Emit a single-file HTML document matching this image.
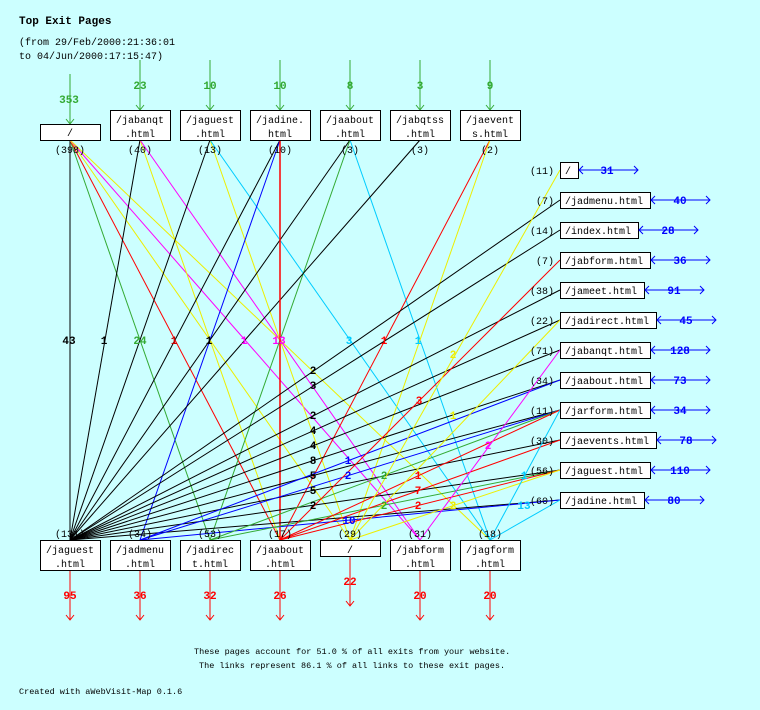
<!DOCTYPE html>
<html><head><meta charset="utf-8"><style>
html,body{margin:0;padding:0;background:#ccffff;}
svg{display:block;}
text{font-family:"Liberation Mono","DejaVu Sans Mono",monospace;font-size:10px;}
.b{font-weight:bold;font-size:11px;}
</style></head><body>
<svg width="760" height="710" xmlns="http://www.w3.org/2000/svg">
<rect width="760" height="710" fill="#ccffff"/>
<text x="19" y="24" class="b">Top Exit Pages</text>
<text x="19" y="45">(from 29/Feb/2000:21:36:01</text>
<text x="19" y="59">to 04/Jun/2000:17:15:47)</text>

<!-- lines top -> bottom -->
<g stroke-width="1" fill="none">
<line x1="70" y1="140" x2="70" y2="540" stroke="#000"/>
<line x1="70" y1="140" x2="210" y2="540" stroke="#3a3"/>
<line x1="70" y1="140" x2="280" y2="540" stroke="#f00"/>
<line x1="70" y1="140" x2="350" y2="540" stroke="#ee0"/>
<line x1="70" y1="140" x2="420" y2="540" stroke="#f0f"/>
<line x1="70" y1="140" x2="490" y2="540" stroke="#ee0"/>
<line x1="140" y1="140" x2="70" y2="540" stroke="#000"/>
<line x1="140" y1="140" x2="280" y2="540" stroke="#ee0"/>
<line x1="140" y1="140" x2="420" y2="540" stroke="#f0f"/>
<line x1="210" y1="140" x2="70" y2="540" stroke="#000"/>
<line x1="210" y1="140" x2="350" y2="540" stroke="#ee0"/>
<line x1="210" y1="140" x2="490" y2="540" stroke="#0cf"/>
<line x1="280" y1="140" x2="70" y2="540" stroke="#000"/>
<line x1="280" y1="140" x2="140" y2="540" stroke="#00f"/>
<line x1="350" y1="140" x2="70" y2="540" stroke="#000"/>
<line x1="350" y1="140" x2="210" y2="540" stroke="#3a3"/>
<line x1="350" y1="140" x2="490" y2="540" stroke="#0cf"/>
<line x1="420" y1="140" x2="70" y2="540" stroke="#000"/>
<line x1="490" y1="140" x2="280" y2="540" stroke="#f00"/>
<line x1="490" y1="140" x2="350" y2="540" stroke="#ee0"/>
<line x1="280" y1="140" x2="280" y2="540" stroke="#f00" stroke-width="1.5"/>
<!-- bottom -> right -->
<line x1="70" y1="540" x2="560" y2="200" stroke="#000"/>
<line x1="70" y1="540" x2="560" y2="230" stroke="#000"/>
<line x1="70" y1="540" x2="560" y2="290" stroke="#000"/>
<line x1="70" y1="540" x2="560" y2="320" stroke="#000"/>
<line x1="70" y1="540" x2="560" y2="350" stroke="#000"/>
<line x1="70" y1="540" x2="560" y2="380" stroke="#000"/>
<line x1="70" y1="540" x2="560" y2="410" stroke="#000"/>
<line x1="70" y1="540" x2="560" y2="440" stroke="#000"/>
<line x1="70" y1="540" x2="560" y2="470" stroke="#000"/>
<line x1="70" y1="540" x2="560" y2="500" stroke="#000"/>
<line x1="140" y1="540" x2="560" y2="380" stroke="#00f"/>
<line x1="140" y1="540" x2="560" y2="410" stroke="#00f"/>
<line x1="140" y1="540" x2="560" y2="500" stroke="#00f"/>
<line x1="210" y1="540" x2="560" y2="410" stroke="#3a3"/>
<line x1="210" y1="540" x2="560" y2="470" stroke="#3a3"/>
<line x1="280" y1="540" x2="560" y2="260" stroke="#f00"/>
<line x1="280" y1="540" x2="560" y2="410" stroke="#f00"/>
<line x1="280" y1="540" x2="560" y2="440" stroke="#f00"/>
<line x1="280" y1="540" x2="560" y2="470" stroke="#f00"/>
<line x1="350" y1="540" x2="560" y2="170" stroke="#ee0"/>
<line x1="350" y1="540" x2="560" y2="320" stroke="#ee0"/>
<line x1="350" y1="540" x2="560" y2="470" stroke="#ee0"/>
<line x1="420" y1="540" x2="560" y2="350" stroke="#f0f"/>
<line x1="490" y1="540" x2="560" y2="410" stroke="#0cf"/>
<line x1="490" y1="540" x2="560" y2="500" stroke="#0cf"/>
</g>

<!-- green entry arrows -->
<g stroke="#3a3" fill="none">
<path d="M70 74V124M66 119L70 124L74 119"/>
<path d="M140 60V110M136 105L140 110L144 105"/>
<path d="M210 60V110M206 105L210 110L214 105"/>
<path d="M280 60V110M276 105L280 110L284 105"/>
<path d="M350 60V110M346 105L350 110L354 105"/>
<path d="M420 60V110M416 105L420 110L424 105"/>
<path d="M490 60V110M486 105L490 110L494 105"/>
</g>
<g fill="#3a3" class="b" text-anchor="middle">
<text x="69" y="103" class="b">353</text><text x="140" y="89" class="b">23</text><text x="210" y="89" class="b">10</text>
<text x="280" y="89" class="b">10</text><text x="350" y="89" class="b">8</text><text x="420" y="89" class="b">3</text><text x="490" y="89" class="b">9</text>
</g>

<!-- top boxes -->
<g fill="#fff" stroke="#000">
<rect x="40.5" y="124.5" width="60" height="16"/>
<rect x="110.5" y="110.5" width="60" height="30"/><rect x="180.5" y="110.5" width="60" height="30"/>
<rect x="250.5" y="110.5" width="60" height="30"/><rect x="320.5" y="110.5" width="60" height="30"/>
<rect x="390.5" y="110.5" width="60" height="30"/><rect x="460.5" y="110.5" width="60" height="30"/>
</g>
<g text-anchor="middle">
<text x="70" y="136">/</text>
<text x="140" y="123">/jabanqt</text><text x="140" y="137">.html</text>
<text x="210" y="123">/jaguest</text><text x="210" y="137">.html</text>
<text x="280" y="123">/jadine.</text><text x="280" y="137">html</text>
<text x="350" y="123">/jaabout</text><text x="350" y="137">.html</text>
<text x="420" y="123">/jabqtss</text><text x="420" y="137">.html</text>
<text x="490" y="123">/jaevent</text><text x="490" y="137">s.html</text>
<text x="70" y="153">(398)</text><text x="140" y="153">(40)</text><text x="210" y="153">(13)</text>
<text x="280" y="153">(10)</text><text x="350" y="153">(3)</text><text x="420" y="153">(3)</text><text x="490" y="153">(2)</text>
<text x="70" y="537">(131)</text><text x="140" y="537">(34)</text><text x="210" y="537">(53)</text>
<text x="280" y="537">(17)</text><text x="350" y="537">(29)</text><text x="420" y="537">(31)</text><text x="490" y="537">(18)</text>
</g>

<!-- bottom boxes -->
<g fill="#fff" stroke="#000">
<rect x="40.5" y="540.5" width="60" height="30"/><rect x="110.5" y="540.5" width="60" height="30"/>
<rect x="180.5" y="540.5" width="60" height="30"/><rect x="250.5" y="540.5" width="60" height="30"/>
<rect x="320.5" y="540.5" width="60" height="16"/><rect x="390.5" y="540.5" width="60" height="30"/>
<rect x="460.5" y="540.5" width="60" height="30"/>
</g>
<g text-anchor="middle">
<text x="70" y="553">/jaguest</text><text x="70" y="567">.html</text>
<text x="140" y="553">/jadmenu</text><text x="140" y="567">.html</text>
<text x="210" y="553">/jadirec</text><text x="210" y="567">t.html</text>
<text x="280" y="553">/jaabout</text><text x="280" y="567">.html</text>
<text x="350" y="553">/</text>
<text x="420" y="553">/jabform</text><text x="420" y="567">.html</text>
<text x="490" y="553">/jagform</text><text x="490" y="567">.html</text>
</g>
<g stroke="#f00" fill="none">
<path d="M70 571V620M66 615L70 620L74 615"/><path d="M140 571V620M136 615L140 620L144 615"/>
<path d="M210 571V620M206 615L210 620L214 615"/><path d="M280 571V620M276 615L280 620L284 615"/>
<path d="M350 557V606M346 601L350 606L354 601"/><path d="M420 571V620M416 615L420 620L424 615"/>
<path d="M490 571V620M486 615L490 620L494 615"/>
</g>
<g fill="#f00" text-anchor="middle">
<text x="70" y="599" class="b">95</text><text x="140" y="599" class="b">36</text><text x="210" y="599" class="b">32</text>
<text x="280" y="599" class="b">26</text><text x="350" y="585" class="b">22</text><text x="420" y="599" class="b">20</text><text x="490" y="599" class="b">20</text>
</g>

<!-- right boxes -->
<g fill="#fff" stroke="#000">
<rect x="560.5" y="162.5" width="18" height="16"/>
<rect x="560.5" y="192.5" width="90" height="16"/>
<rect x="560.5" y="222.5" width="78" height="16"/>
<rect x="560.5" y="252.5" width="90" height="16"/>
<rect x="560.5" y="282.5" width="84" height="16"/>
<rect x="560.5" y="312.5" width="96" height="16"/>
<rect x="560.5" y="342.5" width="90" height="16"/>
<rect x="560.5" y="372.5" width="90" height="16"/>
<rect x="560.5" y="402.5" width="90" height="16"/>
<rect x="560.5" y="432.5" width="96" height="16"/>
<rect x="560.5" y="462.5" width="90" height="16"/>
<rect x="560.5" y="492.5" width="84" height="16"/>
</g>
<g>
<text x="565" y="174">/</text><text x="565" y="204">/jadmenu.html</text><text x="565" y="234">/index.html</text>
<text x="565" y="264">/jabform.html</text><text x="565" y="294">/jameet.html</text><text x="565" y="324">/jadirect.html</text>
<text x="565" y="354">/jabanqt.html</text><text x="565" y="384">/jaabout.html</text><text x="565" y="414">/jarform.html</text>
<text x="565" y="444">/jaevents.html</text><text x="565" y="474">/jaguest.html</text><text x="565" y="504">/jadine.html</text>
</g>
<g text-anchor="end">
<text x="554" y="174">(11)</text><text x="554" y="204">(7)</text><text x="554" y="234">(14)</text>
<text x="554" y="264">(7)</text><text x="554" y="294">(38)</text><text x="554" y="324">(22)</text>
<text x="554" y="354">(71)</text><text x="554" y="384">(34)</text><text x="554" y="414">(11)</text>
<text x="554" y="444">(30)</text><text x="554" y="474">(56)</text><text x="554" y="504">(60)</text>
</g>
<g stroke="#00f" fill="none">
<path d="M579 170H638M583 166L579 170L583 174M634 166L638 170L634 174"/>
<path d="M651 200H710M655 196L651 200L655 204M706 196L710 200L706 204"/>
<path d="M639 230H698M643 226L639 230L643 234M694 226L698 230L694 234"/>
<path d="M651 260H710M655 256L651 260L655 264M706 256L710 260L706 264"/>
<path d="M645 290H704M649 286L645 290L649 294M700 286L704 290L700 294"/>
<path d="M657 320H716M661 316L657 320L661 324M712 316L716 320L712 324"/>
<path d="M651 350H710M655 346L651 350L655 354M706 346L710 350L706 354"/>
<path d="M651 380H710M655 376L651 380L655 384M706 376L710 380L706 384"/>
<path d="M651 410H710M655 406L651 410L655 414M706 406L710 410L706 414"/>
<path d="M657 440H716M661 436L657 440L661 444M712 436L716 440L712 444"/>
<path d="M651 470H710M655 466L651 470L655 474M706 466L710 470L706 474"/>
<path d="M645 500H704M649 496L645 500L649 504M700 496L704 500L700 504"/>
</g>
<g fill="#00f" text-anchor="middle">
<text x="607" y="174" class="b">31</text><text x="680" y="204" class="b">40</text><text x="668" y="234" class="b">28</text>
<text x="680" y="264" class="b">36</text><text x="674" y="294" class="b">91</text><text x="686" y="324" class="b">45</text>
<text x="680" y="354" class="b">128</text><text x="680" y="384" class="b">73</text><text x="680" y="414" class="b">34</text>
<text x="686" y="444" class="b">78</text><text x="680" y="474" class="b">110</text><text x="674" y="504" class="b">80</text>
</g>

<!-- link labels -->
<g text-anchor="middle">
<text x="69" y="344" class="b">43</text><text x="104" y="344" class="b">1</text>
<text x="140" y="344" class="b" fill="#3a3">24</text><text x="174" y="344" class="b" fill="#c00">1</text>
<text x="209" y="344" class="b">1</text><text x="244" y="344" class="b" fill="#f0f">1</text>
<text x="279" y="344" class="b" fill="#f0f">13</text><text x="349" y="344" class="b" fill="#0cf">3</text>
<text x="384" y="344" class="b" fill="#f00">1</text><text x="418" y="344" class="b" fill="#0cf">1</text>
<text x="453" y="358" class="b" fill="#ee0">2</text>
<text x="313" y="374" class="b">2</text><text x="313" y="389" class="b">3</text>
<text x="419" y="404" class="b" fill="#f00">3</text><text x="453" y="419" class="b" fill="#ee0">1</text>
<text x="313" y="419" class="b">2</text><text x="313" y="434" class="b">4</text>
<text x="313" y="449" class="b">4</text><text x="488" y="449" class="b" fill="#f0f">2</text>
<text x="313" y="464" class="b">8</text><text x="348" y="464" class="b" fill="#00f">1</text>
<text x="313" y="479" class="b">5</text><text x="348" y="479" class="b" fill="#00f">2</text>
<text x="384" y="479" class="b" fill="#3a3">2</text><text x="418" y="479" class="b" fill="#f00">1</text>
<text x="524" y="479" class="b" fill="#0cf">1</text>
<text x="313" y="494" class="b">5</text><text x="418" y="494" class="b" fill="#f00">7</text>
<text x="313" y="509" class="b">2</text><text x="384" y="509" class="b" fill="#3a3">2</text>
<text x="418" y="509" class="b" fill="#f00">2</text><text x="453" y="509" class="b" fill="#ee0">2</text>
<text x="524" y="509" class="b" fill="#0cf">13</text><text x="349" y="524" class="b" fill="#00f">10</text>
</g>

<text x="194" y="654" style="font-size:8.5px">These pages account for 51.0 % of all exits from your website.</text>
<text x="199" y="668" style="font-size:8.5px">The links represent 86.1 % of all links to these exit pages.</text>
<text x="19" y="694" style="font-size:8.5px">Created with aWebVisit-Map 0.1.6</text>
</svg>
</body></html>
